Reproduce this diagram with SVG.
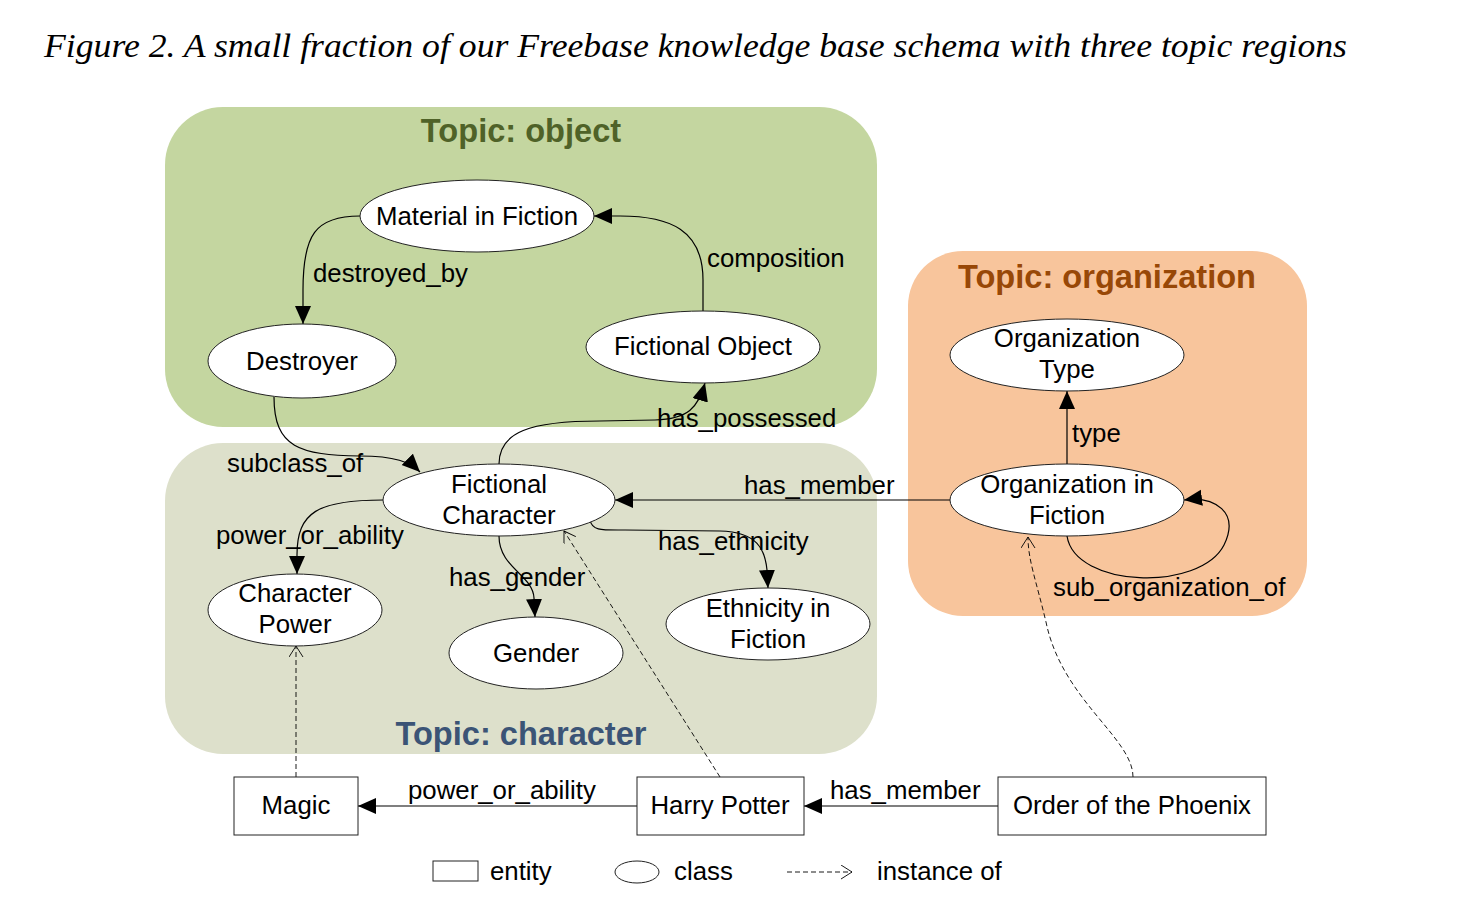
<svg xmlns="http://www.w3.org/2000/svg" width="1468" height="916" viewBox="0 0 1468 916">
<defs>
<marker id="arr" markerUnits="userSpaceOnUse" markerWidth="20" markerHeight="18" refX="18" refY="8" orient="auto">
<path d="M0,0 L18,8 L0,16 Z" fill="#000"/>
</marker>
<marker id="open" markerUnits="userSpaceOnUse" markerWidth="14" markerHeight="16" refX="11" refY="7" orient="auto">
<path d="M0,0 L11,7 L0,14" fill="none" stroke="#000" stroke-width="0.9"/>
</marker>
<style>
.t{font-family:"Liberation Sans",Arial,sans-serif;font-size:25.8px;fill:#000}
.c{text-anchor:middle}
.n{fill:#fff;stroke:#222;stroke-width:1}
.e{fill:none;stroke:#000;stroke-width:1.2}
.d{fill:none;stroke:#000;stroke-width:0.9;stroke-dasharray:5,3}
.h{font-family:"Liberation Sans",Arial,sans-serif;font-size:32.6px;font-weight:bold;text-anchor:middle}
</style>
</defs>
<rect width="1468" height="916" fill="#fff"/>
<text x="44" y="57" font-family="'Liberation Serif','Times New Roman',serif" font-style="italic" font-size="34" textLength="1303" lengthAdjust="spacingAndGlyphs">Figure 2. A small fraction of our Freebase knowledge base schema with three topic regions</text>

<g id="region-object">
<rect x="165" y="107" width="712" height="320" rx="58" fill="#c4d6a0"/>
<text class="h" x="521" y="142" fill="#4f6228">Topic: object</text>
</g>
<g id="region-character">
<rect x="165" y="443" width="712" height="311" rx="58" fill="#dde0cb"/>
<text class="h" x="521" y="745" fill="#3b5476">Topic: character</text>
</g>
<g id="region-organization">
<rect x="908" y="251" width="399" height="365" rx="55" fill="#f8c59c"/>
<text class="h" x="1107" y="288" fill="#984807">Topic: organization</text>
</g>

<g id="connectors">
<path class="e" d="M360,216 C315,216 303,235 303,290 L303,324" marker-end="url(#arr)"/>
<path class="e" d="M703,311 L703,280 C703,230 670,216 620,216 L594,216" marker-end="url(#arr)"/>
<path class="e" d="M274,397 C274,448 300,455 360,456 C395,456 410,462 420,472" marker-end="url(#arr)"/>
<path class="e" d="M499,464 C499,432 530,421 600,421 L655,420 C688,419 698,408 705,383" marker-end="url(#arr)"/>
<path class="e" d="M950,500 L615,500" marker-end="url(#arr)"/>
<path class="e" d="M1067,464 L1067,391" marker-end="url(#arr)"/>
<path class="e" d="M1067,536 C1075,588 1200,592 1224,545 C1240,512 1215,496 1184,500" marker-end="url(#arr)"/>
<path class="e" d="M383,500 C318,500 297,512 297,555 L297,574" marker-end="url(#arr)"/>
<path class="e" d="M499,536 C499,568 533,575 534,598 L535,617" marker-end="url(#arr)"/>
<path class="e" d="M590,520 C592,531 602,530 625,530 L720,531 C758,532 765,550 767,570 L768,588" marker-end="url(#arr)"/>
<path class="e" d="M637,806 L358,806" marker-end="url(#arr)"/>
<path class="e" d="M998,806 L804,806" marker-end="url(#arr)"/>
<path class="d" d="M296,777 L296,646" marker-end="url(#open)"/>
<path class="d" d="M720,777 L564,531" marker-end="url(#open)"/>
<path class="d" d="M1133,777 C1133,738 1062,700 1046,622 C1036,580 1028,560 1028,537" marker-end="url(#open)"/>
<text class="t" x="313" y="282">destroyed_by</text>
<text class="t" x="707" y="267">composition</text>
<text class="t" x="227" y="472">subclass_of</text>
<text class="t" x="657" y="427">has_possessed</text>
<text class="t" x="744" y="494">has_member</text>
<text class="t" x="1072" y="442">type</text>
<text class="t" x="1053" y="596">sub_organization_of</text>
<text class="t" x="216" y="544">power_or_ability</text>
<text class="t" x="449" y="586">has_gender</text>
<text class="t" x="658" y="550">has_ethnicity</text>
<text class="t" x="408" y="799">power_or_ability</text>
<text class="t" x="830" y="799">has_member</text>
</g>

<g id="material-in-fiction"><ellipse class="n" cx="477" cy="216" rx="117" ry="36"/><text class="t c" x="477" y="225">Material in Fiction</text></g>
<g id="destroyer"><ellipse class="n" cx="302" cy="361" rx="94" ry="37"/><text class="t c" x="302" y="370">Destroyer</text></g>
<g id="fictional-object"><ellipse class="n" cx="703" cy="347" rx="117" ry="36"/><text class="t c" x="703" y="355">Fictional Object</text></g>
<g id="fictional-character"><ellipse class="n" cx="499" cy="500" rx="116" ry="36"/><text class="t c" x="499" y="493">Fictional</text><text class="t c" x="499" y="524">Character</text></g>
<g id="character-power"><ellipse class="n" cx="295" cy="610" rx="87" ry="36"/><text class="t c" x="295" y="602">Character</text><text class="t c" x="295" y="633">Power</text></g>
<g id="gender"><ellipse class="n" cx="536" cy="653" rx="87" ry="36"/><text class="t c" x="536" y="662">Gender</text></g>
<g id="ethnicity-in-fiction"><ellipse class="n" cx="768" cy="624" rx="102" ry="36"/><text class="t c" x="768" y="617">Ethnicity in</text><text class="t c" x="768" y="648">Fiction</text></g>
<g id="organization-type"><ellipse class="n" cx="1067" cy="355" rx="117" ry="36"/><text class="t c" x="1067" y="347">Organization</text><text class="t c" x="1067" y="378">Type</text></g>
<g id="organization-in-fiction"><ellipse class="n" cx="1067" cy="500" rx="117" ry="36"/><text class="t c" x="1067" y="493">Organization in</text><text class="t c" x="1067" y="524">Fiction</text></g>

<g id="magic"><rect class="n" x="234" y="777" width="124" height="58"/><text class="t c" x="296" y="814">Magic</text></g>
<g id="harry-potter"><rect class="n" x="637" y="777" width="167" height="58"/><text class="t c" x="720" y="814">Harry Potter</text></g>
<g id="order-of-the-phoenix"><rect class="n" x="998" y="777" width="268" height="58"/><text class="t c" x="1132" y="814">Order of the Phoenix</text></g>

<g id="legend">
<rect class="n" x="433" y="861" width="45" height="20"/>
<text class="t" x="490" y="880">entity</text>
<ellipse class="n" cx="637" cy="872" rx="22" ry="11"/>
<text class="t" x="674" y="880">class</text>
<path class="d" d="M787,872 L852,872" marker-end="url(#open)"/>
<text class="t" x="877" y="880">instance of</text>
</g>
</svg>
